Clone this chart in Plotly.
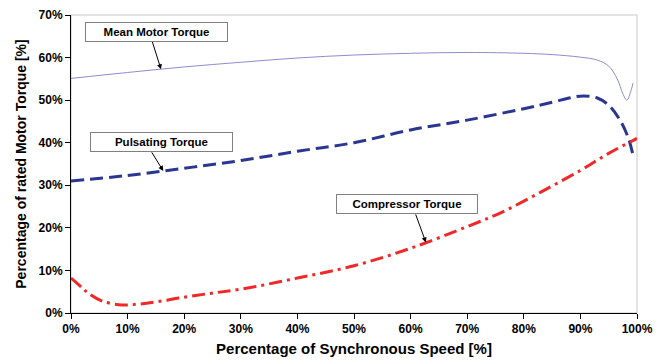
import numpy as np
import plotly.graph_objects as go

# Speed axis (% of synchronous speed) and torque curves (% of rated motor torque)
mean_speed = [0, 10, 20, 30, 40, 50, 60, 70, 80, 85, 90, 93, 95, 96.5, 97.5, 98.2, 99, 99.3]
mean_torque = [55.1, 56.5, 57.8, 58.9, 59.9, 60.6, 61.0, 61.2, 61.0, 60.7, 60.1, 59.4, 58.0, 55.0, 51.5, 50.0, 52.5, 54.0]

puls_speed = [0, 10, 20, 30, 40, 50, 60, 70, 80, 85, 88, 90.5, 93, 95, 97, 98.5, 99.3]
puls_torque = [31.0, 32.3, 34.0, 35.8, 38.0, 40.0, 43.0, 45.3, 48.0, 49.5, 50.5, 51.0, 50.5, 48.8, 45.3, 41.0, 37.0]

comp_speed = [0, 2, 3, 5.5, 9, 12, 15, 19, 24, 30, 40, 50, 60, 70, 76, 83, 90, 95, 100]
comp_torque = [8.2, 5.9, 4.7, 2.8, 1.9, 2.1, 2.6, 3.5, 4.5, 5.6, 8.2, 11.1, 15.2, 20.3, 23.6, 28.4, 33.5, 37.5, 41.0]

x_ticks = list(range(0, 101, 10))
y_ticks = list(range(0, 71, 10))

FONT = "Liberation Sans, Arial, sans-serif"

fig = go.Figure()
fig.add_trace(go.Scatter(x=mean_speed, y=mean_torque, mode="lines", line_shape="spline",
                         line=dict(color="#8C8CCF", width=1), name="Mean Motor Torque"))
fig.add_trace(go.Scatter(x=puls_speed, y=puls_torque, mode="lines", line_shape="spline",
                         line=dict(color="#2B3592", width=3, dash="13px,6px"), name="Pulsating Torque"))
fig.add_trace(go.Scatter(x=comp_speed, y=comp_torque, mode="lines", line_shape="spline",
                         line=dict(color="#F02828", width=3, dash="13px,5px,3px,5px"), name="Compressor Torque"))

# Callout boxes with arrows pointing onto each curve
callouts = [
    ("Mean Motor Torque", 15.1, 66.1, 14.3, 64.0, 15.9, mean_speed, mean_torque, 139),
    ("Pulsating Torque", 16.0, 40.2, 14.1, 38.1, 16.3, puls_speed, puls_torque, 139),
    ("Compressor Torque", 59.4, 25.7, 60.8, 23.5, 62.7, comp_speed, comp_torque, 138),
]
for text, bx, by, tx, ty, hx, xs, ys, w in callouts:
    hy = float(np.interp(hx, xs, ys))
    fig.add_annotation(x=hx, y=hy, ax=tx, ay=ty, axref="x", ayref="y", xref="x", yref="y",
                       text="", showarrow=True, arrowhead=2, arrowsize=1, arrowwidth=1,
                       arrowcolor="black", standoff=0)
    fig.add_annotation(x=bx, y=by, xref="x", yref="y", text="<b>%s</b>" % text, showarrow=False,
                       width=w, height=16, bgcolor="white", bordercolor="#808080", borderwidth=1,
                       font=dict(family=FONT, size=11.5, color="black"))

# Light frame on top/right of plotting area
fig.add_shape(type="rect", xref="paper", yref="paper", x0=0, y0=0, x1=1, y1=1,
              line=dict(color="#C8C8C8", width=1), layer="below")

fig.update_layout(
    width=669, height=364,
    margin=dict(l=71, r=32, t=15, b=51),
    paper_bgcolor="white", plot_bgcolor="white",
    showlegend=False,
    font=dict(family=FONT, color="black"),
)
fig.update_xaxes(
    range=[0, 100], tickvals=x_ticks, ticktext=["<b>%d%%</b>" % v for v in x_ticks],
    showgrid=False, zeroline=False, showline=True, linecolor="black", linewidth=1,
    ticks="outside", ticklen=5, tickcolor="black", tickfont=dict(size=12, family=FONT),
    automargin=False,
    title=dict(text="<b>Percentage of Synchronous Speed [%]</b>", font=dict(size=15, family=FONT), standoff=8),
)
fig.update_yaxes(
    range=[0, 70], tickvals=y_ticks, ticktext=["<b>%d%%</b>" % v for v in y_ticks],
    showgrid=False, zeroline=False, showline=True, linecolor="black", linewidth=1,
    ticks="outside", ticklen=5, tickcolor="black", tickfont=dict(size=12, family=FONT),
    automargin=False,
    title=dict(text="<b>Percentage of rated Motor Torque [%]</b>", font=dict(size=14, family=FONT), standoff=8),
)

fig.write_html("out.html")
